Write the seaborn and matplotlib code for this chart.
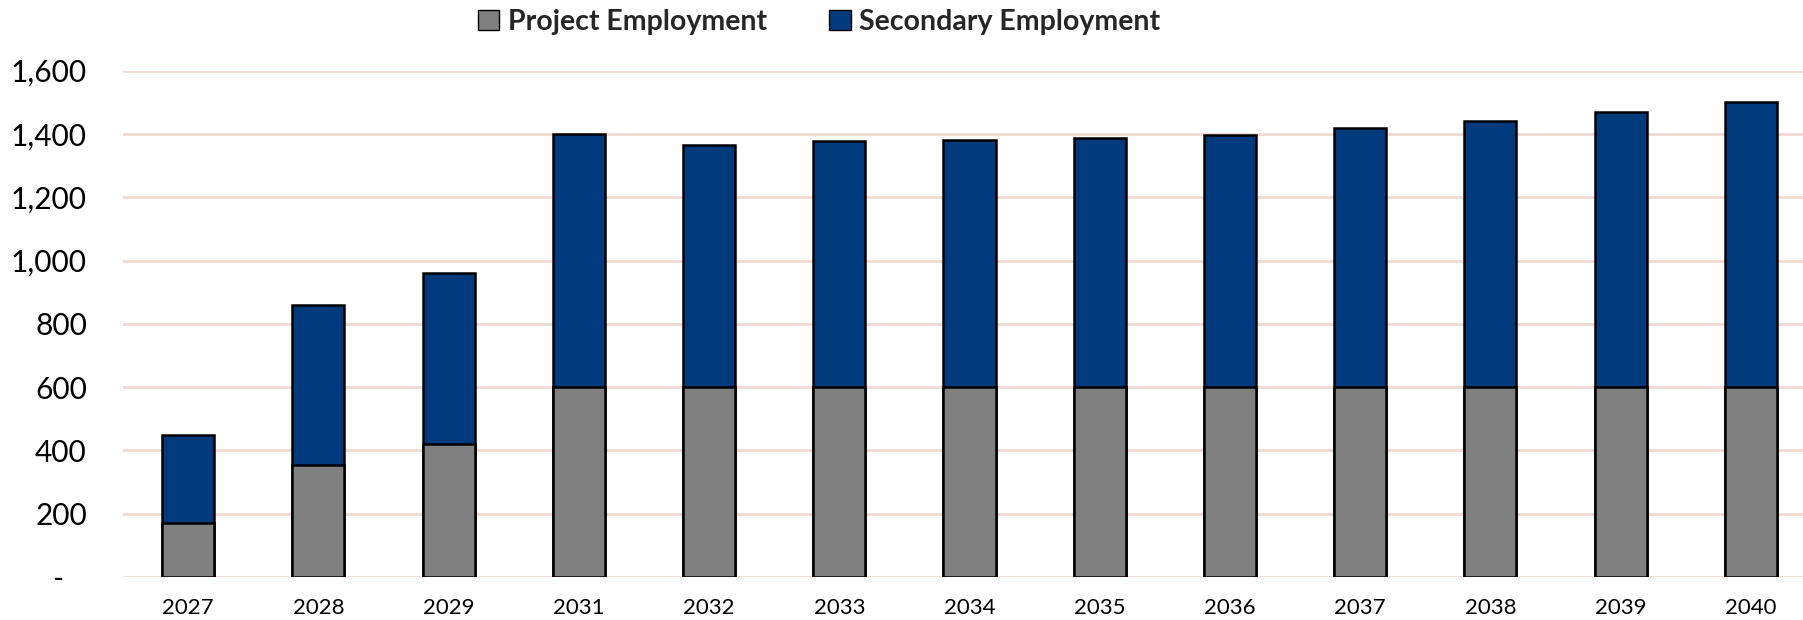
import matplotlib
matplotlib.use("Agg")
import matplotlib.pyplot as plt
import seaborn as sns
import pandas as pd
from matplotlib.patches import Patch
from matplotlib.ticker import FuncFormatter

years = ["2027", "2028", "2029", "2031", "2032", "2033", "2034", "2035", "2036", "2037", "2038", "2039", "2040"]
project = [170, 355, 420, 600, 600, 600, 600, 600, 600, 600, 600, 600, 600]
secondary = [280, 505, 540, 800, 765, 778, 780, 787, 798, 818, 841, 868, 900]
yticks = [0, 200, 400, 600, 800, 1000, 1200, 1400, 1600]

total = [p + s for p, s in zip(project, secondary)]
df = pd.DataFrame({"Year": years, "Project": project, "Total": total})

sns.set_theme(style="white")
plt.rcParams["font.family"] = ["Lato", "DejaVu Sans"]

fig = plt.figure(figsize=(18.03, 6.2), dpi=100)
ax = fig.add_axes([123 / 1803, 1 - 577 / 620, 1 - 123 / 1803, (577 - 70.7) / 620])

grid_color = "#F0D9D4"
for t in yticks:
    ax.axhline(t, color=grid_color, lw=2, zorder=0)

sns.barplot(data=df, x="Year", y="Total", color="#023A7E", width=0.4,
            edgecolor="black", linewidth=1.8, saturation=1, ax=ax, zorder=2)
sns.barplot(data=df, x="Year", y="Project", color="#808080", width=0.4,
            edgecolor="black", linewidth=1.8, saturation=1, ax=ax, zorder=3)

ax.set_xlim(-0.5, 12.4)
ax.set_ylim(0, 1600)
ax.set_yticks(yticks)
ax.yaxis.set_major_formatter(FuncFormatter(lambda v, p: "-   " if v == 0 else f"{int(v):,}"))
ax.set_xlabel("")
ax.set_ylabel("")
for s in ax.spines.values():
    s.set_visible(False)
ax.tick_params(axis="y", length=0, pad=26, labelsize=21.5, labelcolor="black")
ax.tick_params(axis="x", length=0, pad=15, labelsize=16, labelcolor="black")

handles = [Patch(facecolor="#808080", edgecolor="black", label="Project Employment"),
           Patch(facecolor="#023A7E", edgecolor="black", label="Secondary Employment")]
fig.legend(handles=handles, loc="center", bbox_to_anchor=(819 / 1803, 1 - 22 / 620), ncol=2,
           frameon=False, prop={"weight": "bold", "size": 20.5}, handlelength=0.75,
           handleheight=0.75, handletextpad=0.3, columnspacing=2.2)

fig.savefig("out.png", dpi=100)
